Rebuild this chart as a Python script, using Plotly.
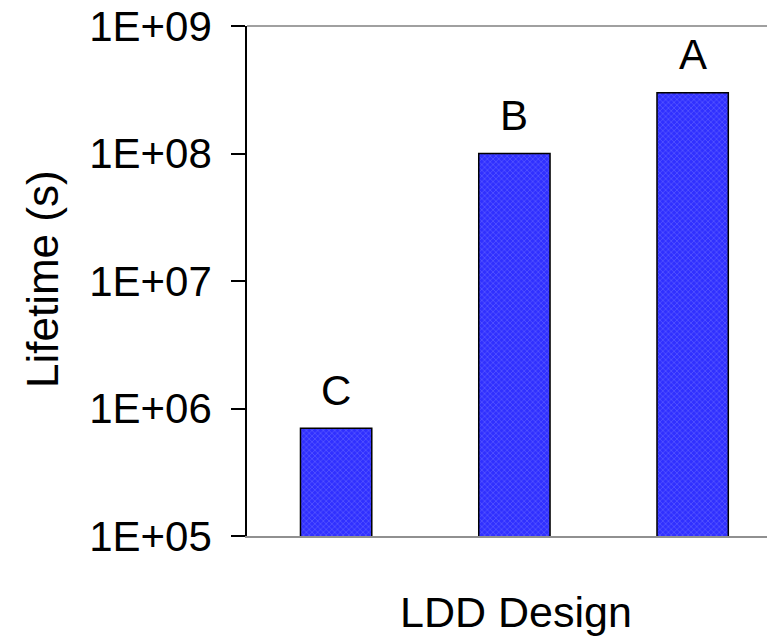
import numpy as np
import plotly.graph_objects as go

categories = ["C", "B", "A"]
lifetimes = [7.0e5, 1.0e8, 3.0e8]
tick_values = [1e5, 1e6, 1e7, 1e8, 1e9]
tick_labels = ["1E+05", "1E+06", "1E+07", "1E+08", "1E+09"]

FONT = "Liberation Sans, Arial, sans-serif"
FS = 42

# page body has an 8px default margin; compensate so the chart lands where the reference does
OFF = 8
W, H = 775 - OFF, 637 - OFF
L, T = 247 - OFF, 26 - OFF
B = (637 - OFF) - (536 - OFF)
R = 0
pw, ph = W - L - R, H - T - B

fig = go.Figure()
fig.add_trace(go.Bar(
    x=categories, y=lifetimes, width=0.4,
    marker=dict(color="#3030ff",
                line=dict(color="black", width=1.5),
                pattern=dict(shape="x", fgcolor="#8c8cff", size=4, solidity=0.3)),
    showlegend=False,
))

for c, v in zip(categories, lifetimes):
    fig.add_annotation(x=c, y=np.log10(v), xref="x", yref="y", text=c,
                       showarrow=False, yanchor="middle", yshift=38,
                       font=dict(size=FS, color="black", family=FONT))

fig.add_annotation(text="Lifetime (s)", xref="paper", yref="paper",
                   x=(42 - 247) / pw, y=(536 - 279) / ph, textangle=-90,
                   xanchor="center", yanchor="middle", showarrow=False,
                   font=dict(size=44, color="black", family=FONT))
fig.add_annotation(text="LDD Design", xref="paper", yref="paper",
                   x=(516 - 247) / pw, y=(536 - 612) / ph,
                   xanchor="center", yanchor="middle", showarrow=False,
                   font=dict(size=43, color="black", family=FONT))

fig.add_shape(type="line", xref="paper", yref="paper", x0=0, x1=1, y0=1, y1=1,
              line=dict(color="#a0a0a0", width=2))

fig.update_layout(
    width=W, height=H,
    margin=dict(l=L, r=R, t=T, b=B, pad=0, autoexpand=False),
    paper_bgcolor="white", plot_bgcolor="white",
    font=dict(family=FONT, size=FS, color="black"),
    xaxis=dict(range=[-0.5, 2.462], showticklabels=False, ticks="",
               showgrid=False, zeroline=False, showline=True, automargin=False,
               linecolor="#909090", linewidth=2),
    yaxis=dict(type="log", range=[5, 9], tickvals=tick_values, ticktext=tick_labels,
               ticks="outside", ticklen=14, tickcolor="black", tickwidth=1.5,
               showgrid=False, zeroline=False, showline=True, automargin=False,
               linecolor="black", linewidth=1.5, ticklabelstandoff=11,
               ticklabeloverflow="allow",
               tickfont=dict(size=FS, color="black", family=FONT)),
)

fig.write_html("out.html")
